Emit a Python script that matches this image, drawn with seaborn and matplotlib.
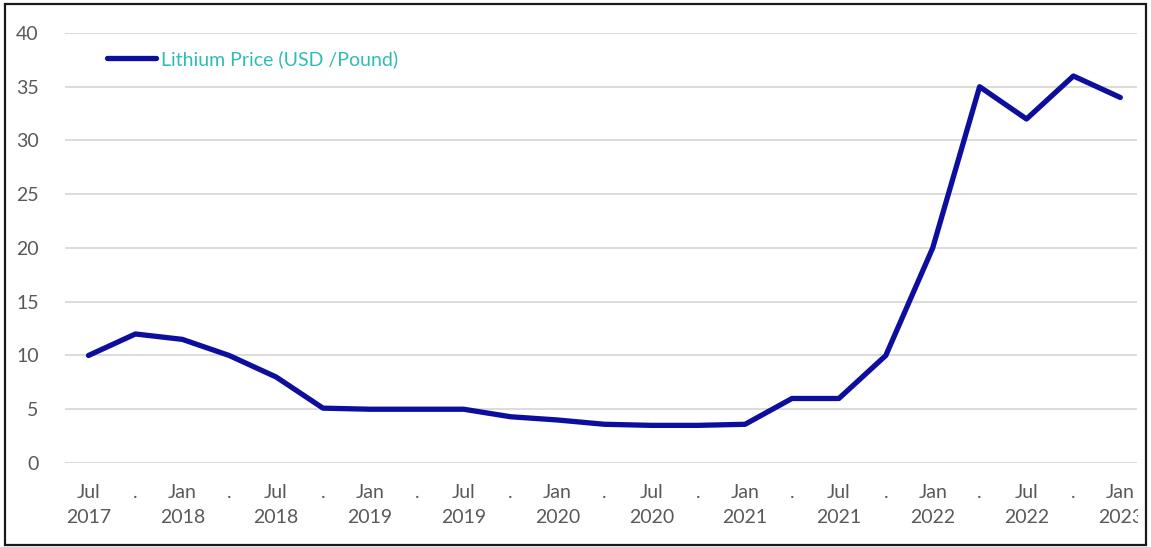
import matplotlib
matplotlib.use("Agg")
import matplotlib.pyplot as plt
from matplotlib.patches import Rectangle
import seaborn as sns
import pandas as pd

# Quarterly observations
periods = ["2017-07", "2017-10", "2018-01", "2018-04", "2018-07", "2018-10",
           "2019-01", "2019-04", "2019-07", "2019-10", "2020-01", "2020-04",
           "2020-07", "2020-10", "2021-01", "2021-04", "2021-07", "2021-10",
           "2022-01", "2022-04", "2022-07", "2022-10", "2023-01"]
price = [10, 12, 11.5, 10, 8, 5.1, 5, 5, 5, 4.3, 4, 3.6,
         3.5, 3.5, 3.6, 6, 6, 10, 20, 35, 32, 36, 34]
tick_labels = ["Jul\n2017", ".", "Jan\n2018", ".", "Jul\n2018", ".", "Jan\n2019", ".",
               "Jul\n2019", ".", "Jan\n2020", ".", "Jul\n2020", ".", "Jan\n2021", ".",
               "Jul\n2021", ".", "Jan\n2022", ".", "Jul\n2022", ".", "Jan\n2023"]
yticks = [0, 5, 10, 15, 20, 25, 30, 35, 40]
series_name = "Lithium Price (USD /Pound)"

df = pd.DataFrame({"pos": range(len(periods)), "period": periods, "price": price})

sns.set_theme(style="white")
plt.rcParams["font.family"] = ["Lato", "DejaVu Sans"]

fig = plt.figure(figsize=(11.51, 5.47), dpi=100)
ax = fig.add_axes([0.0565, 0.1536, 0.9315, 0.7861])

sns.lineplot(data=df, x="pos", y="price", ax=ax, color="#0D0D9E",
             linewidth=3.8, label=series_name, solid_capstyle="round")

ax.set_xlim(-0.5, 22.36)
ax.set_ylim(0, 40)
ax.set_yticks(yticks)
ax.set_yticklabels([str(v) for v in yticks])
ax.set_xticks(range(len(periods)))
ax.set_xticklabels(tick_labels, linespacing=1.55)
ax.set_xlabel("")
ax.set_ylabel("")

ax.yaxis.grid(True, color="#D9D9D9", linewidth=1.3)
ax.xaxis.grid(False)
ax.set_axisbelow(True)
for s in ax.spines.values():
    s.set_visible(False)
ax.tick_params(axis="both", length=0, labelsize=14, colors="#595959")
ax.tick_params(axis="x", pad=15)
ax.tick_params(axis="y", pad=19)

# Keep the last x label inside the frame
clip = Rectangle((5, 3), 1133, 540, transform=None)
for t in ax.get_xticklabels():
    t.set_clip_path(clip)
    t.set_clip_on(True)

leg = ax.legend(loc="upper left", bbox_to_anchor=(0.032, 0.978), frameon=False,
                fontsize=14, handlelength=2.5, handletextpad=0.25, borderaxespad=0)
for txt in leg.get_texts():
    txt.set_color("#2DBDB5")

# Outer frame
fig.patches.append(Rectangle((0.004, 0.004), 0.992, 0.989, transform=fig.transFigure,
                             fill=False, edgecolor="#1A1A1A", linewidth=1.6))

fig.savefig("out.png", dpi=100)
